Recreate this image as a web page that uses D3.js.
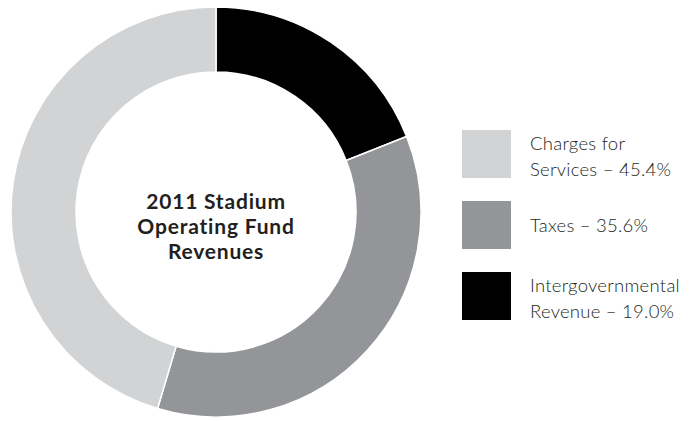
<!DOCTYPE html>
<html>
<head>
<meta charset="utf-8">
<script src="https://cdn.jsdelivr.net/npm/d3@7"></script>
<style>
  html, body { margin: 0; padding: 0; background: #fff; }
  svg { display: block; }
</style>
</head>
<body>
<svg id="chart" width="689" height="422"></svg>
<script>
// Revenue sources (clockwise from 12 o'clock)
const categories = ["Intergovernmental Revenue", "Taxes", "Charges for Services"];
const shares = [19.0, 35.6, 45.4];
const colors = ["#000000", "#939598", "#d1d3d4"];

// Legend order and wrapped label lines
const legendOrder = ["Charges for Services", "Taxes", "Intergovernmental Revenue"];
const legendLines = [
  ["Charges for", "Services – 45.4%"],
  ["Taxes – 35.6%"],
  ["Intergovernmental", "Revenue – 19.0%"]
];
const titleLines = ["2011 Stadium", "Operating Fund", "Revenues"];

const svg = d3.select("#chart");
const cx = 216, cy = 212, rOuter = 205, rInner = 140;

const color = d3.scaleOrdinal().domain(categories).range(colors);
const data = categories.map((c, i) => ({ name: c, value: shares[i] }));

const pie = d3.pie().value(d => d.value).sort(null);
const arc = d3.arc().innerRadius(rInner).outerRadius(rOuter);

const ring = svg.append("g").attr("transform", `translate(${cx},${cy})`);
ring.selectAll("path")
  .data(pie(data))
  .join("path")
  .attr("d", arc)
  .attr("fill", d => color(d.data.name))
  .attr("stroke", "#ffffff")
  .attr("stroke-width", 1.5);

// Centre title
ring.append("text")
  .attr("text-anchor", "middle")
  .attr("font-family", "Lato, 'Open Sans', sans-serif")
  .attr("font-weight", 700)
  .attr("font-size", 21)
  .attr("letter-spacing", 0.8)
  .attr("fill", "#231f20")
  .selectAll("tspan")
  .data(titleLines)
  .join("tspan")
  .attr("x", 0)
  .attr("y", (d, i) => -3 + i * 25)
  .text(d => d);

// Legend
const legend = svg.append("g").attr("transform", "translate(462,130)");
const rowY = d3.scalePoint().domain(legendOrder).range([0, 142]);

const rows = legend.selectAll("g")
  .data(legendOrder)
  .join("g")
  .attr("transform", d => `translate(0,${rowY(d)})`);

rows.append("rect")
  .attr("width", 49)
  .attr("height", 48)
  .attr("fill", d => color(d));

rows.append("text")
  .attr("font-family", "Lato, 'Open Sans', sans-serif")
  .attr("font-weight", 300)
  .attr("font-size", 18.5)
  .attr("letter-spacing", 0.25)
  .attr("fill", "#231f20")
  .each(function(d, i) {
    const lines = legendLines[i];
    const first = lines.length === 1 ? 31 : 20;
    d3.select(this).selectAll("tspan")
      .data(lines)
      .join("tspan")
      .attr("x", 68)
      .attr("y", (l, j) => first + j * 26)
      .text(l => l);
  });
</script>
</body>
</html>
